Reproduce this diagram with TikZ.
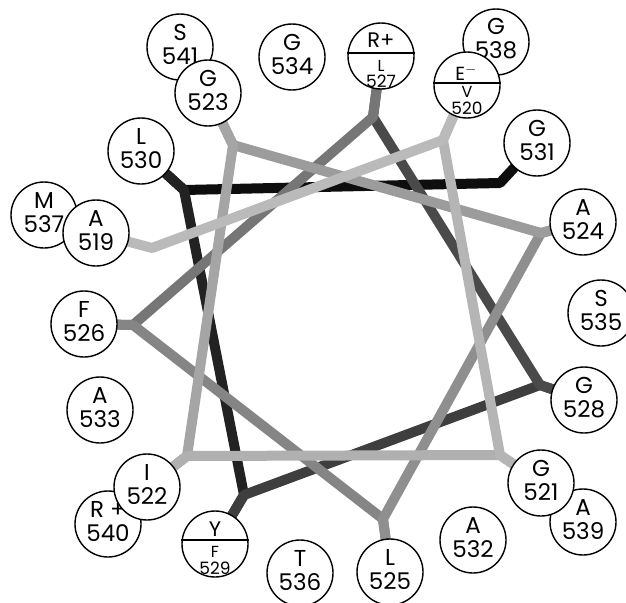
\documentclass[tikz,border=0pt]{standalone}
\usepackage{fontspec}
\setmainfont{Poppins}
\pgfdeclarelayer{background}
\pgfsetlayers{background,main}
\definecolor{c1}{HTML}{BABABA}
\definecolor{c2}{HTML}{B5B5B5}
\definecolor{c3}{HTML}{B0B0B0}
\definecolor{c4}{HTML}{A5A5A5}
\definecolor{c5}{HTML}{9C9C9C}
\definecolor{c6}{HTML}{8F8F8F}
\definecolor{c7}{HTML}{858585}
\definecolor{c8}{HTML}{767676}
\definecolor{c9}{HTML}{4A4A4A}
\definecolor{c10}{HTML}{3E3E3E}
\definecolor{c11}{HTML}{222222}
\definecolor{c12}{HTML}{0E0E0E}
\begin{document}
\begin{tikzpicture}[x=1pt,y=-1pt,
  res/.style={circle, draw, line width=1.4pt, minimum size=66pt, inner sep=0pt, fill=white,
    align=center, text depth=5pt, font=\fontsize{23}{24}\selectfont},
  sres/.style={circle, draw, line width=1.4pt, minimum size=66pt, inner sep=0pt, fill=white},
  divider/.style={line width=1.4pt},
  toptxt/.style={inner sep=0pt, anchor=base, font=\fontsize{21}{22}\selectfont},
  midtxt/.style={inner sep=0pt, anchor=base, font=\fontsize{16}{16}\selectfont},
  numtxt/.style={inner sep=0pt, anchor=base, font=\fontsize{17}{17}\selectfont},
  ribbon/.style={line width=10pt, line join=round, line cap=round}]
\useasboundingbox (0,0) rectangle (626,602);
% back circles
\node[res] (n541) at (180,47) {S\\541};
\node[res] (n537) at (44,215) {M\\537};
\node[res, text depth=8pt] (n538) at (496,42) {G\\538};
\node[res] (n539) at (583,522) {A\\539};
\node[res] (n540) at (108,524) {R +\\540};
% other circles
\node[res] (n534) at (292,57) {G\\534};
\node[res] (n523) at (208,93) {G\\523};
\node[res] (n530) at (141,151) {L\\530};
\node[res] (n519) at (96,233) {A\\519};
\node[sres] (n527) at (381,56) {};
\node[sres] (n520) at (467,85) {};
\node[res] (n531) at (537,143) {G\\531};
\node[res] (n524) at (583,222) {A\\524};
\node[res] (n535) at (601,313) {S\\535};
\node[res] (n528) at (584,400) {G\\528};
\node[res] (n521) at (541,483) {G\\521};
\node[res] (n532) at (473,540) {A\\532};
\node[res] (n525) at (390,572) {L\\525};
\node[res] (n536) at (300,573) {T\\536};
\node[sres] (n529) at (215,544) {};
\node[res] (n522) at (147,487) {I\\522};
\node[res] (n533) at (100,410) {A\\533};
\node[res] (n526) at (84,324) {F\\526};
% split circles
\draw[divider] ([yshift=3pt]n527.west) -- ([yshift=3pt]n527.east);
\node[toptxt] (t527a) at (381,48) {R+};
\node[midtxt] (t527b) at (381,71) {L};
\node[numtxt] (t527c) at (381,87) {527};
\draw[divider] ([yshift=2pt]n520.west) -- ([yshift=2pt]n520.east);
\node[toptxt, font=\fontsize{19}{20}\selectfont] (t520a) at (466,80) {E$^{-}$};
\node[midtxt] (t520b) at (467,97) {V};
\node[numtxt] (t520c) at (467,114) {520};
\draw[divider] ([yshift=4pt]n529.west) -- ([yshift=4pt]n529.east);
\node[toptxt] (t529a) at (215,536) {Y};
\node[midtxt] (t529b) at (215,557) {F};
\node[numtxt] (t529c) at (215,574) {529};
% junctions
\coordinate (j519) at (152,248);
\coordinate (j520) at (443,140);
\coordinate (j521) at (500,455);
\coordinate (j522) at (187,456);
\coordinate (j523) at (233,145);
\coordinate (j524) at (541,233);
\coordinate (j525) at (383,519);
\coordinate (j526) at (133,325);
\coordinate (j527) at (373,117);
\coordinate (j528) at (540,385);
\coordinate (j529) at (244,495);
\coordinate (j530) at (184,190);
\coordinate (j531) at (500,183);
\begin{pgfonlayer}{background}
\draw[ribbon, c12] (n530.center) -- (j530) -- (j531) -- (n531.center);
\draw[ribbon, c11] (n529.center) -- (j529) -- (j530) -- (n530.center);
\draw[ribbon, c10] (n528.center) -- (j528) -- (j529) -- (n529.center);
\draw[ribbon, c9] (n527.center) -- (j527) -- (j528) -- (n528.center);
\draw[ribbon, c8] (n526.center) -- (j526) -- (j527) -- (n527.center);
\draw[ribbon, c7] (n525.center) -- (j525) -- (j526) -- (n526.center);
\draw[ribbon, c6] (n524.center) -- (j524) -- (j525) -- (n525.center);
\draw[ribbon, c5] (n523.center) -- (j523) -- (j524) -- (n524.center);
\draw[ribbon, c4] (n522.center) -- (j522) -- (j523) -- (n523.center);
\draw[ribbon, c3] (n521.center) -- (j521) -- (j522) -- (n522.center);
\draw[ribbon, c2] (n520.center) -- (j520) -- (j521) -- (n521.center);
\draw[ribbon, c1] (n519.center) -- (j519) -- (j520) -- (n520.center);
\end{pgfonlayer}
\end{tikzpicture}
\end{document}
